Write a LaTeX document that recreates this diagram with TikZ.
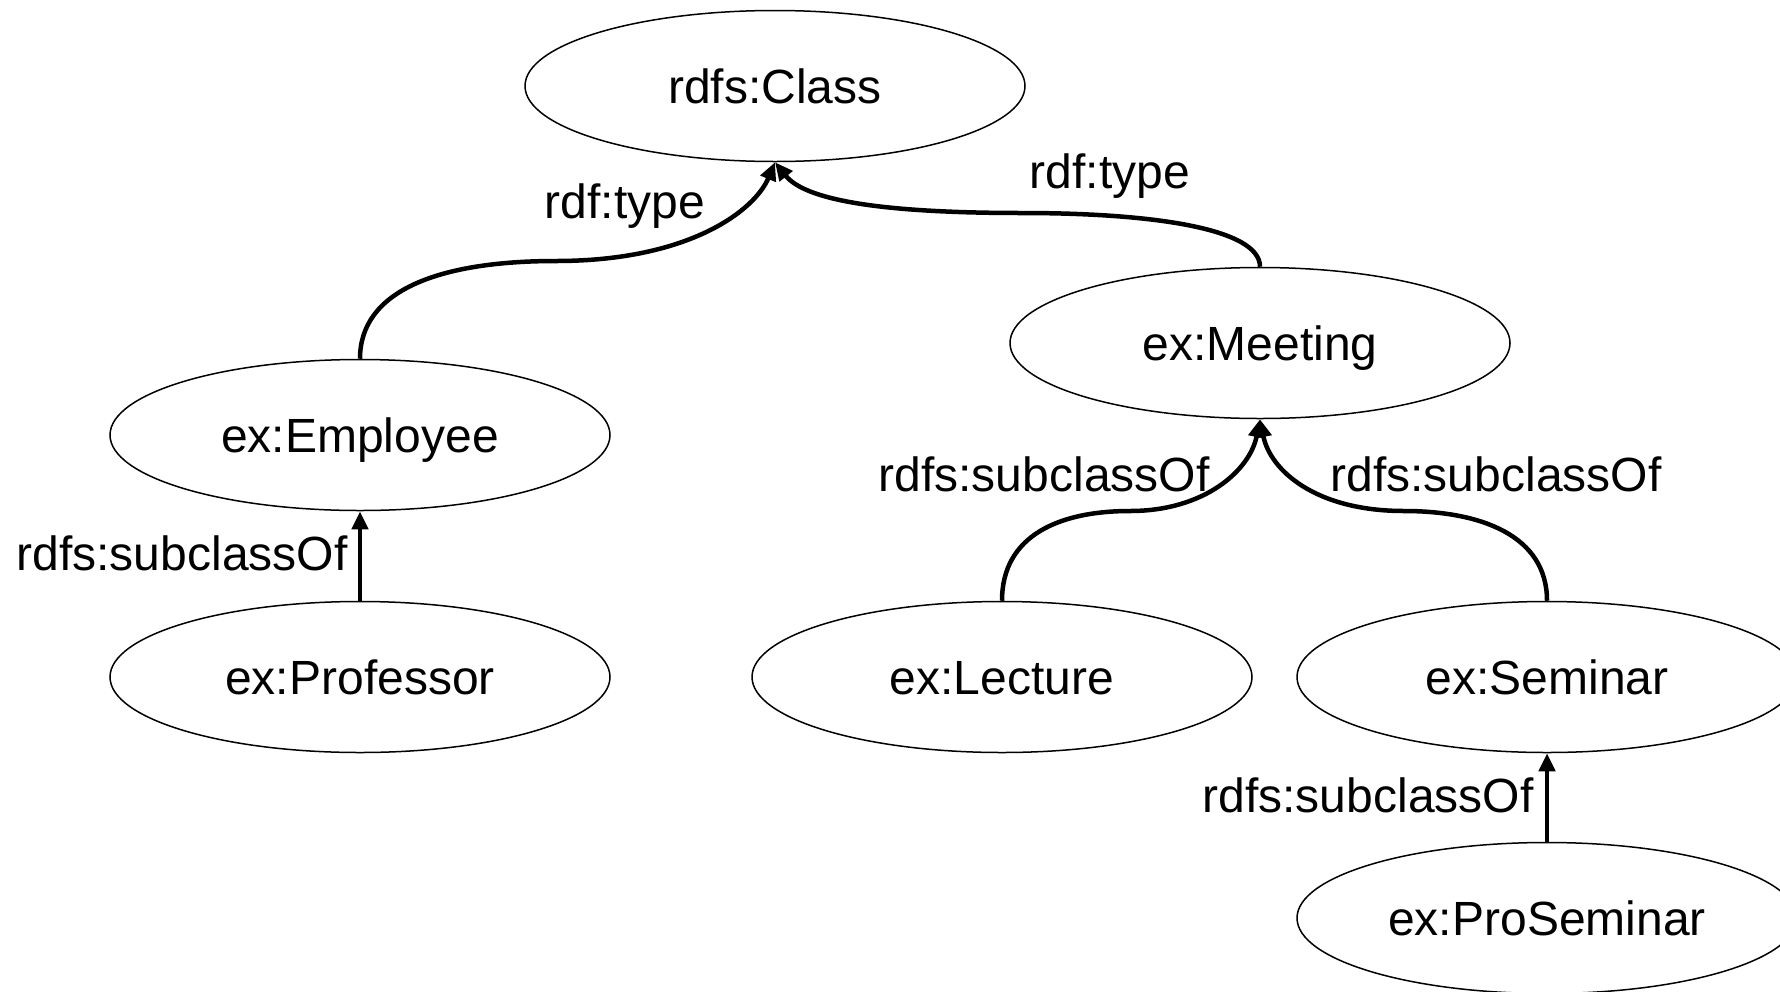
\documentclass[tikz,border=0pt]{standalone}
\usepackage{fontspec}
\setmainfont{Liberation Sans}
\usetikzlibrary{shapes.geometric,arrows.meta}
\begin{document}
\begin{tikzpicture}[x=1pt,y=-1pt,
  cls/.style={draw=black,line width=1.5pt,ellipse,minimum width=500pt,minimum height=151pt,inner sep=0pt,text height=34pt,text depth=0pt,font=\fontsize{48}{58}\selectfont},
  lbl/.style={inner sep=0pt,font=\fontsize{48}{58}\selectfont},
  rel/.style={line width=4.5pt,-{Triangle[length=18pt,width=16pt]}}]
\useasboundingbox (0,0) rectangle (1780,991);
\node[cls] (class) at (775,86) {rdfs:Class};
\node[cls] (employee) at (360,435) {ex:Employee};
\node[cls] (professor) at (360,677) {ex:Professor};
\node[cls] (meeting) at (1260,343) {ex:Meeting};
\node[cls] (lecture) at (1002,677) {ex:Lecture};
\node[cls] (seminar) at (1547,677) {ex:Seminar};
\node[cls] (proseminar) at (1547,918) {ex:ProSeminar};
\draw[rel] (employee.north) .. controls (360,290) and (440,261) .. (556,261) .. controls (690,261) and (755,210) .. (class.south);
\draw[rel] (meeting.north) .. controls (1260,228) and (1150,213) .. (1022,213) .. controls (880,213) and (805,200) .. (class.south);
\draw[rel] (lecture.north) .. controls (1002,535) and (1060,511) .. (1130,511) .. controls (1205,511) and (1250,470) .. (meeting.south);
\draw[rel] (seminar.north) .. controls (1547,535) and (1480,511) .. (1404,511) .. controls (1315,511) and (1270,470) .. (meeting.south);
\draw[rel] (professor.north) -- (employee.south);
\draw[rel] (proseminar.north) -- (seminar.south);
\node[lbl] (l1) at (625,206) {rdf:type};
\node[lbl] (l2) at (1110,176) {rdf:type};
\node[lbl] (l3) at (1044,474) {rdfs:subclassOf};
\node[lbl] (l4) at (1496,474) {rdfs:subclassOf};
\node[lbl] (l5) at (182,553) {rdfs:subclassOf};
\node[lbl] (l6) at (1368,795) {rdfs:subclassOf};
\end{tikzpicture}
\end{document}
